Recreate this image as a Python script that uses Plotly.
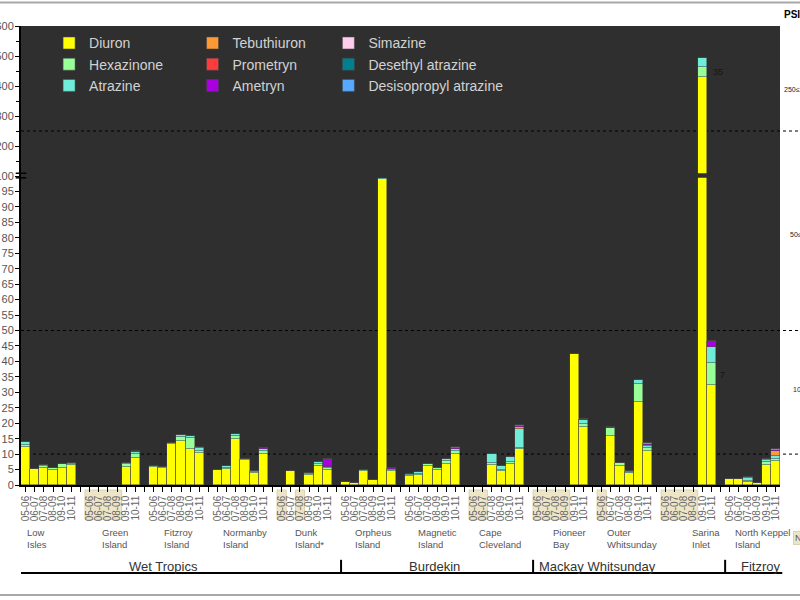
import plotly.graph_objects as go

# ---------------- data ----------------
seasons = ["05-06", "06-07", "07-08", "08-09", "09-10", "10-11"]
sites = ["Low<br>Isles", "Green<br>Island", "Fitzroy<br>Island", "Normanby<br>Island",
         "Dunk<br>Island*", "Orpheus<br>Island", "Magnetic<br>Island", "Cape<br>Cleveland",
         "Pioneer<br>Bay", "Outer<br>Whitsunday", "Sarina<br>Inlet", "North Keppel<br>Island"]
regions = ["Wet Tropics", "Burdekin", "Mackay Whitsunday", "Fitzroy"]
region_first_site = [0, 5, 8, 11]

N = None
diuron = [
    [12.3, 5.2, 5.4, 5.0, 5.4, 6.5],
    [N, N, N, N, 5.9, 8.7],
    [5.8, 5.4, 13.4, 14.4, 11.7, 10.3],
    [4.8, 5.2, 15.0, 8.0, 3.9, 10.1],
    [N, 4.5, N, 3.3, 6.0, 5.0],
    [1.0, 0.6, 4.6, 1.7, 99.0, 4.6],
    [3.0, 3.3, 6.2, 5.0, 6.9, 9.9],
    [N, N, 6.6, 4.4, 6.9, 11.7],
    [N, N, N, N, 42.5, 18.7],
    [N, 15.9, 6.3, 3.8, 26.8, 11.0],
    [N, N, N, N, 430.0, 32.5],
    [1.8, 1.8, 1.0, 0.8, 6.6, 7.9],
]
hexazinone = [
    [0.5, 0, 0.6, 0.4, 1.4, 0.3],
    [N, N, N, N, 0.9, 1.2],
    [0.2, 0.3, 0.2, 1.2, 3.5, 0.8],
    [0, 0.4, 0.7, 0.4, 0.2, 1.0],
    [N, 0, N, 0.2, 0.8, 0.4],
    [0, 0, 0.2, 0, 0, 0.3],
    [0.2, 0.4, 0.5, 0.5, 0.8, 1.0],
    [N, N, 0.5, 0.3, 0.4, 0.3],
    [N, N, N, N, 0, 1.2],
    [N, 2.5, 0.7, 0.2, 5.8, 1.0],
    [N, N, N, N, 34.0, 7.0],
    [0, 0, 0.3, 0, 1.0, 0.4],
]
atrazine = [
    [1.1, 0, 0.5, 0, 0, 0.2],
    [N, N, N, N, 0.4, 0.8],
    [0.1, 0.2, 0.1, 0.7, 0.6, 0.8],
    [0, 0.5, 0.7, 0, 0.3, 0.5],
    [N, 0, N, 0.3, 0.6, 0.4],
    [0, 0, 0.2, 0, 0.3, 0.3],
    [0.3, 0.6, 0.2, 0.1, 0.6, 0.9],
    [N, N, 2.9, 1.5, 1.9, 6.2],
    [N, N, N, N, 0, 1.0],
    [N, 0.1, 0.1, 0.3, 1.5, 0.5],
    [N, N, N, N, 28.0, 5.0],
    [0, 0, 1.0, 0, 0.6, 1.1],
]
tebuthiuron = [
    [0, 0, 0, 0, 0, 0],
    [N, N, N, N, 0, 0],
    [0, 0, 0, 0, 0, 0],
    [0, 0, 0, 0, 0, 0],
    [N, 0, N, 0, 0, 0],
    [0, 0, 0, 0, 0, 0],
    [0, 0, 0, 0, 0, 0],
    [N, N, 0, 0, 0, 0.6],
    [N, N, N, N, 0, 0],
    [N, 0, 0, 0.2, 0, 0.3],
    [N, N, N, N, 0, 0],
    [0, 0, 0.2, 0, 0.3, 1.6],
]
prometryn = [
    [0, 0, 0, 0, 0, 0],
    [N, N, N, N, 0, 0],
    [0, 0, 0, 0, 0, 0],
    [0, 0, 0, 0, 0, 0],
    [N, 0, N, 0, 0, 0],
    [0, 0, 0, 0, 0, 0],
    [0, 0, 0, 0, 0, 0],
    [N, N, 0, 0, 0, 0],
    [N, N, N, N, 0, 0],
    [N, 0, 0, 0, 0, 0],
    [N, N, N, N, 0, 0],
    [0, 0, 0, 0, 0, 0],
]
ametryn = [
    [0, 0, 0, 0, 0, 0.2],
    [N, N, N, N, 0, 0.2],
    [0, 0, 0, 0, 0, 0.2],
    [0, 0, 0, 0, 0, 0.3],
    [N, 0, N, 0, 0, 2.7],
    [0, 0, 0, 0, 0, 0.2],
    [0, 0, 0, 0, 0, 0.2],
    [N, N, 0, 0, 0, 0.3],
    [N, N, N, N, 0, 0.5],
    [N, 0.2, 0, 0, 0, 0.5],
    [N, N, N, N, 2.0, 2.0],
    [0, 0, 0, 0, 0, 0.4],
]
simazine = [
    [0, 0, 0, 0, 0, 0],
    [N, N, N, N, 0, 0],
    [0, 0, 0, 0, 0, 0],
    [0, 0, 0, 0, 0, 0],
    [N, 0, N, 0, 0, 0],
    [0, 0, 0, 0, 0, 0],
    [0, 0, 0, 0, 0, 0],
    [N, N, 0, 0, 0, 0],
    [N, N, N, N, 0, 0],
    [N, 0, 0, 0, 0, 0.2],
    [N, N, N, N, 0, 0],
    [0, 0, 0, 0, 0, 0.4],
]
desethyl_atrazine = [
    [0, 0, 0, 0, 0, 0],
    [N, N, N, N, 0, 0],
    [0, 0, 0, 0, 0, 0],
    [0, 0, 0, 0, 0, 0],
    [N, 0, N, 0, 0, 0],
    [0, 0, 0, 0, 0, 0],
    [0, 0, 0, 0, 0, 0],
    [N, N, 0, 0, 0, 0],
    [N, N, N, N, 0, 0],
    [N, 0, 0, 0, 0, 0],
    [N, N, N, N, 0, 0],
    [0, 0, 0, 0, 0, 0],
]
desisopropyl_atrazine = [
    [0, 0, 0, 0, 0, 0],
    [N, N, N, N, 0, 0.2],
    [0, 0, 0, 0, 0, 0.2],
    [0, 0, 0, 0, 0, 0],
    [N, 0, N, 0, 0, 0],
    [0, 0, 0, 0, 0, 0],
    [0, 0, 0, 0, 0, 0.2],
    [N, N, 0, 0, 0, 0.2],
    [N, N, N, N, 0, 0],
    [N, 0, 0, 0, 0, 0],
    [N, N, N, N, 0, 0],
    [0, 0, 0, 0, 0, 0],
]

compounds = ["Diuron", "Hexazinone", "Atrazine", "Tebuthiuron", "Prometryn", "Ametryn",
             "Simazine", "Desethyl atrazine", "Desisopropyl atrazine"]
compound_values = [diuron, hexazinone, atrazine, tebuthiuron, prometryn, ametryn,
                   simazine, desethyl_atrazine, desisopropyl_atrazine]
colors = ["#ffff00", "#99ff99", "#70ecd8", "#ff9933", "#ff3b3b", "#a800e0",
          "#ffccee", "#00808f", "#55aaff"]
legend_ids = ["legend", "legend", "legend", "legend2", "legend2", "legend2",
              "legend3", "legend3", "legend3"]

# -------------- layout helpers (positions / styling) --------------
SLOTS_PER_SITE = len(seasons) + 1          # one empty slot between sites
site_label_offset = [0.45, 1.65, 1.4, 0.85, 1.75, 1.3, 1.2, 0.85, 1.95, 0.85, 3.15, 0.85]
region_label_offset = [11.6, 7.2, 0.45, 1.5]
BG = "#2f2f2f"
SPLIT = 0.6732   # domain boundary of the broken axis

xs, tickvals, ticktext, nodata = [], [], [], []
for i in range(len(sites)):
    for j, s in enumerate(seasons):
        pos = i * SLOTS_PER_SITE + j
        xs.append(pos)
        if diuron[i][j] is None:
            nodata.append(pos)
n_slots = len(sites) * SLOTS_PER_SITE - 1
for p in range(n_slots):
    tickvals.append(p)
    k = p % SLOTS_PER_SITE
    ticktext.append(seasons[k] if k < len(seasons) else "")

fig = go.Figure()
for name, vals, col, lg in zip(compounds, compound_values, colors, legend_ids):
    flat = [v for row in vals for v in row]
    for yax, show in (("y", True), ("y2", False)):
        fig.add_trace(go.Bar(
            x=xs, y=flat, name=name,
            marker=dict(color=col, line=dict(color="rgba(70,70,70,0.9)", width=0.6)),
            yaxis=yax, xaxis="x", showlegend=show, legend=lg, width=1.0,
        ))

shapes = []
# dotted threshold lines
for yref, yv in (("y2", 250), ("y", 50), ("y", 10)):
    shapes.append(dict(type="line", xref="paper", x0=0, x1=1.04, yref=yref, y0=yv, y1=yv,
                       line=dict(color="black", width=1, dash="dot"), layer="below"))
# gap of the broken axis through the bars
shapes.append(dict(type="rect", xref="paper", x0=0.003, x1=1, yref="paper",
                   y0=SPLIT - 0.004, y1=SPLIT + 0.006, fillcolor=BG, line=dict(width=0), layer="above"))
# break mark on the axis
for dy in (-0.004, 0.006):
    shapes.append(dict(type="line", xref="paper", x0=-0.007, x1=0.007, yref="paper",
                       y0=SPLIT + dy, y1=SPLIT + dy, line=dict(color="black", width=1.5)))
# no-data shading behind tick labels (merge runs)
runs = []
for p in nodata:
    if runs and p == runs[-1][1] + 1:
        runs[-1][1] = p
    else:
        runs.append([p, p])
for a, b in runs:
    shapes.append(dict(type="rect", xref="x", x0=a - 0.5, x1=b + 0.5, yref="paper", y0=-0.075, y1=-0.011,
                       fillcolor="#ede5c8", line=dict(color="#dcd2ad", width=1), layer="below"))
# region line and dividers
shapes.append(dict(type="line", xref="paper", x0=0, x1=1.003, yref="paper", y0=-0.1917, y1=-0.1917,
                   line=dict(color="black", width=2)))
for fs in region_first_site[1:]:
    xv = fs * SLOTS_PER_SITE - 0.5
    shapes.append(dict(type="line", xref="x", x0=xv, x1=xv, yref="paper", y0=-0.1917, y1=-0.163,
                       line=dict(color="black", width=2)))
# outer frame lines
for yv in (1.051, -0.2397):
    shapes.append(dict(type="line", xref="paper", x0=-0.05, x1=1.05, yref="paper", y0=yv, y1=yv,
                       line=dict(color="#a8a8a8", width=2)))

annotations = []
for i, s in enumerate(sites):
    annotations.append(dict(x=i * SLOTS_PER_SITE - 0.5 + site_label_offset[i], y=-0.116, xref="x", yref="paper",
                            text=s, showarrow=False, xanchor="left", yanchor="middle", align="left",
                            font=dict(size=9.5, color="#555", family="Liberation Sans")))
for r, fs, off in zip(regions, region_first_site, region_label_offset):
    annotations.append(dict(x=fs * SLOTS_PER_SITE - 0.5 + off, y=-0.1785, xref="x", yref="paper",
                            text=r, showarrow=False, xanchor="left", yanchor="middle",
                            font=dict(size=13, color="#333", family="Liberation Sans")))
annotations += [
    dict(x=74.9, y=447, xref="x", yref="y2", text="35", showarrow=False, xanchor="left",
         font=dict(size=9, color="#151515", family="Liberation Sans")),
    dict(x=76.2, y=35.5, xref="x", yref="y", text="7", showarrow=False, xanchor="center",
         font=dict(size=9, color="#151515", family="Liberation Sans")),
    dict(x=1.003, y=1.024, xref="paper", yref="paper", text="<b>PSII-HEq</b>", showarrow=False,
         xanchor="left", yanchor="middle", font=dict(size=10, color="black", family="Liberation Sans")),
    dict(x=1.002, y=0.8606, xref="paper", yref="paper", text="250≤x", showarrow=False,
         xanchor="left", yanchor="middle", font=dict(size=7, color="#222", family="Liberation Sans")),
    dict(x=1.010, y=0.5447, xref="paper", yref="paper", text="50≤x", showarrow=False,
         xanchor="left", yanchor="middle", font=dict(size=7, color="#222", family="Liberation Sans")),
    dict(x=1.014, y=0.207, xref="paper", yref="paper", text="10≤x", showarrow=False,
         xanchor="left", yanchor="middle", font=dict(size=7, color="#222", family="Liberation Sans")),
    dict(x=1.017, y=-0.115, xref="paper", yref="paper", text="No data", showarrow=False,
         xanchor="left", yanchor="middle", bgcolor="#ede5c8", bordercolor="#dcd2ad", borderwidth=1,
         font=dict(size=9, color="#555", family="Liberation Sans")),
]

legend_common = dict(bgcolor="rgba(0,0,0,0)", font=dict(size=14, color="#d2d2d2", family="Liberation Sans"),
                     xanchor="left", yanchor="top", orientation="v", tracegroupgap=0,
                     traceorder="normal")

fig.update_layout(
    width=800, height=600,
    margin=dict(l=21, r=20, t=26, b=115),
    paper_bgcolor="white", plot_bgcolor=BG,
    barmode="stack", bargap=0,
    font=dict(family="Liberation Sans"),
    xaxis=dict(range=[-0.5, n_slots - 0.5], tickvals=tickvals, ticktext=ticktext, tickangle=-90,
               tickfont=dict(size=10, color="#666"), ticks="outside", ticklen=5, tickcolor="black",
               showline=True, linecolor="black", linewidth=1.5, showgrid=False, zeroline=False,
               anchor="y", automargin=False),
    yaxis=dict(domain=[0, SPLIT], range=[0, 100], tickvals=list(range(0, 101, 5)),
               ticks="outside", ticklen=4, tickcolor="black", tickfont=dict(size=11, color="#555"),
               ticklabelstandoff=-1,
               showline=True, linecolor="black", linewidth=2, showgrid=False, zeroline=False,
               automargin=False),
    yaxis2=dict(domain=[SPLIT, 1], range=[100, 600], tickvals=list(range(200, 601, 100)),
                ticks="outside", ticklen=4, tickcolor="black", tickfont=dict(size=11, color="#555"),
                ticklabelstandoff=-1,
                minor=dict(tickvals=list(range(150, 600, 100)), ticks="outside", ticklen=3, tickcolor="black"),
                showline=True, linecolor="black", linewidth=2, showgrid=False, zeroline=False,
                anchor="x", automargin=False),
    legend=dict(x=0.037, y=0.997, **legend_common),
    legend2=dict(x=0.226, y=0.997, **legend_common),
    legend3=dict(x=0.405, y=0.997, **legend_common),
    shapes=shapes, annotations=annotations,
)

fig.write_html("out.html")
